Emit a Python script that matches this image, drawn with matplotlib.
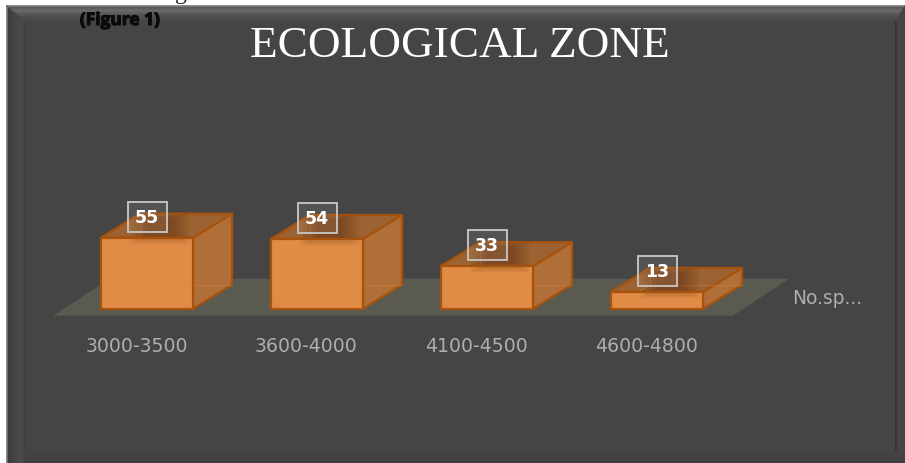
import matplotlib
matplotlib.use("Agg")
import matplotlib.pyplot as plt
from matplotlib.patches import Polygon, Rectangle
import matplotlib.patheffects as pe

# Data
categories = ["3000-3500", "3600-4000", "4100-4500", "4600-4800"]
values = [55, 54, 33, 13]
series_name = "No.sp..."
title = "ECOLOGICAL ZONE"
note = "(Figure 1)"

W, H = 905, 464
fig = plt.figure(figsize=(W / 100, H / 100), dpi=100, facecolor="white")

# Frame layer in pixel units
bg = fig.add_axes([0, 0, 1, 1])
bg.set_xlim(0, W)
bg.set_ylim(H, 0)
bg.axis("off")
PANEL = "#454545"
bg.add_patch(Rectangle((6, 6), W - 6, H - 6, fc=PANEL, ec="none"))
top_band = ["#8c8c8c", "#777777", "#5a5a5a", "#5e5e5e", "#646464", "#6a6a6a", "#666666", "#5f5f5f",
            "#5a5a5a", "#565656", "#525252", "#4f4f4f", "#4d4d4d", "#4c4c4c", "#4a4a4a", "#484848"]
for i, c in enumerate(top_band):
    y = 6 + i
    bg.add_patch(Polygon([(6 + i * 19 / 16, y), (W - i * 0.6, y), (W - (i + 1) * 0.6, y + 1),
                          (6 + (i + 1) * 19 / 16, y + 1)], fc=c, ec="none"))
left_band = ["#8a8a8a", "#6e6e6e", "#3c3c3c", "#3e3e3e", "#404040", "#414141", "#424242", "#434343",
             "#444444", "#454545", "#464646", "#474747", "#484848", "#494949", "#4a4a4a", "#4a4a4a",
             "#494949", "#474747", "#404040"]
for i, c in enumerate(left_band):
    x = 6 + i
    y0 = 7 + i * 16 / 19
    bg.add_patch(Rectangle((x, y0), 1, H - y0, fc=c, ec="none"))
for x, c in [(895, "#363636"), (896, "#3a3a3a"), (897, "#404040"), (898, "#464646")]:
    bg.add_patch(Rectangle((x, 22), 1, 430, fc=c, ec="none"))
for y, c in [(453, "#434343"), (460, "#414141"), (462, "#3e3e3e")]:
    bg.add_patch(Rectangle((25, y), W - 25, H - y, fc=c, ec="none"))

# Chart layer: x = category index, y = value
PX_X = 170.0
PX_Y = 71 / 55
ax = fig.add_axes([0, 0, 1, 1])
ax.patch.set_alpha(0)
ax.set_xlim(-147 / PX_X, (W - 147) / PX_X)
ax.set_ylim(-(H - 309.7) / PX_Y, 309.7 / PX_Y)
ax.axis("off")

half = 46 / PX_X
dx = 39 / PX_X
dy = 24 / PX_Y
edge = "#a8530d"

floor_front = -7 / PX_Y
floor_back = 30 / PX_Y
ax.add_patch(Polygon([(-94 / PX_X, floor_front), (586 / PX_X, floor_front),
                      (642 / PX_X, floor_back), (-37 / PX_X, floor_back)],
                     fc="#5a5a50", ec="none", zorder=1))

for i, (cat, v) in enumerate(zip(categories, values)):
    l, r = i - half, i + half
    # back edges seen through the box
    ax.plot([l + dx, l + dx, r + dx], [v + dy, dy, dy], color="#e5853a", lw=0.8, alpha=0.35, zorder=3.1)
    ax.plot([l, l + dx], [0, dy], color="#e5853a", lw=0.8, alpha=0.5, zorder=3.1)
    # side, top, front
    ax.add_patch(Polygon([(r, 0), (r + dx, dy), (r + dx, v + dy), (r, v)], fc="#b06f38",
                         ec=edge, lw=1.6, joinstyle="round", zorder=3))
    ax.add_patch(Polygon([(l, v), (l + dx, v + dy), (r + dx, v + dy), (r, v)], fc="#9c6232",
                         ec=edge, lw=1.6, joinstyle="round", zorder=3))
    ax.add_patch(Rectangle((l, 0), 2 * half, v, fc="#e08c46", ec="none", zorder=3))
    # soft shadow of the label, kept inside the top and front faces
    clip = Polygon([(l, 0), (l, v), (l + dx, v + dy), (r + dx, v + dy), (r, v), (r, 0)],
                   transform=ax.transData, fc="none", ec="none")
    ax.add_patch(clip)
    for k in range(14):
        sx = (30 - 1.4 * k) / PX_X
        s = Rectangle((i + 13 / PX_X - sx, v + (-7 + 0.8 * k) / PX_Y), 2 * sx, (32 - 1.2 * k) / PX_Y,
                      fc="#4a2508", ec="none", alpha=0.028, zorder=3.2)
        ax.add_patch(s)
        s.set_clip_path(clip)
    ax.add_patch(Rectangle((l, 0), 2 * half, v, fc="none", ec=edge, lw=1.6,
                           joinstyle="round", zorder=3.4))
    # data label
    ax.add_patch(Rectangle((i - 19 / PX_X, v + 6 / PX_Y), 39 / PX_X, 30 / PX_Y,
                           fc="#ffffff", alpha=0.08, ec="none", zorder=4))
    ax.add_patch(Rectangle((i - 19 / PX_X, v + 6 / PX_Y), 39 / PX_X, 30 / PX_Y,
                           fc="none", ec="#c4bfba", lw=1.4, zorder=4.5))
    ax.text(i, v + 21 / PX_Y, str(v), ha="center", va="center", color="white",
            fontsize=12.5, fontweight="bold", family="DejaVu Sans", zorder=5)
    # category label
    ax.text(i - 10.5 / PX_X, -37.3 / PX_Y, cat, ha="center", va="center", color="#aeaeae",
            fontsize=13.6, family="DejaVu Sans")

ax.text((827 - 147) / PX_X, 11.5 / PX_Y, series_name, ha="center", va="center",
        color="#aeaeae", fontsize=13.4, family="DejaVu Sans")

# Title and stray text
fig.text(460 / W, 1 - 46 / H, title, ha="center", va="center", color="white",
         fontsize=32.6, family="Liberation Serif")
fig.text(120 / W, 1 - 21 / H, note, ha="center", va="center", color="#0a0a0a",
         fontsize=12.5, fontweight="bold", family="Open Sans",
         path_effects=[pe.withStroke(linewidth=0.8, foreground="#0a0a0a")])
fig.text(181 / W, 1 + 1 / H, "g", ha="center", va="baseline", color="#222222",
         fontsize=17, family="Liberation Serif")

fig.savefig("out.png", dpi=100, facecolor="white")
